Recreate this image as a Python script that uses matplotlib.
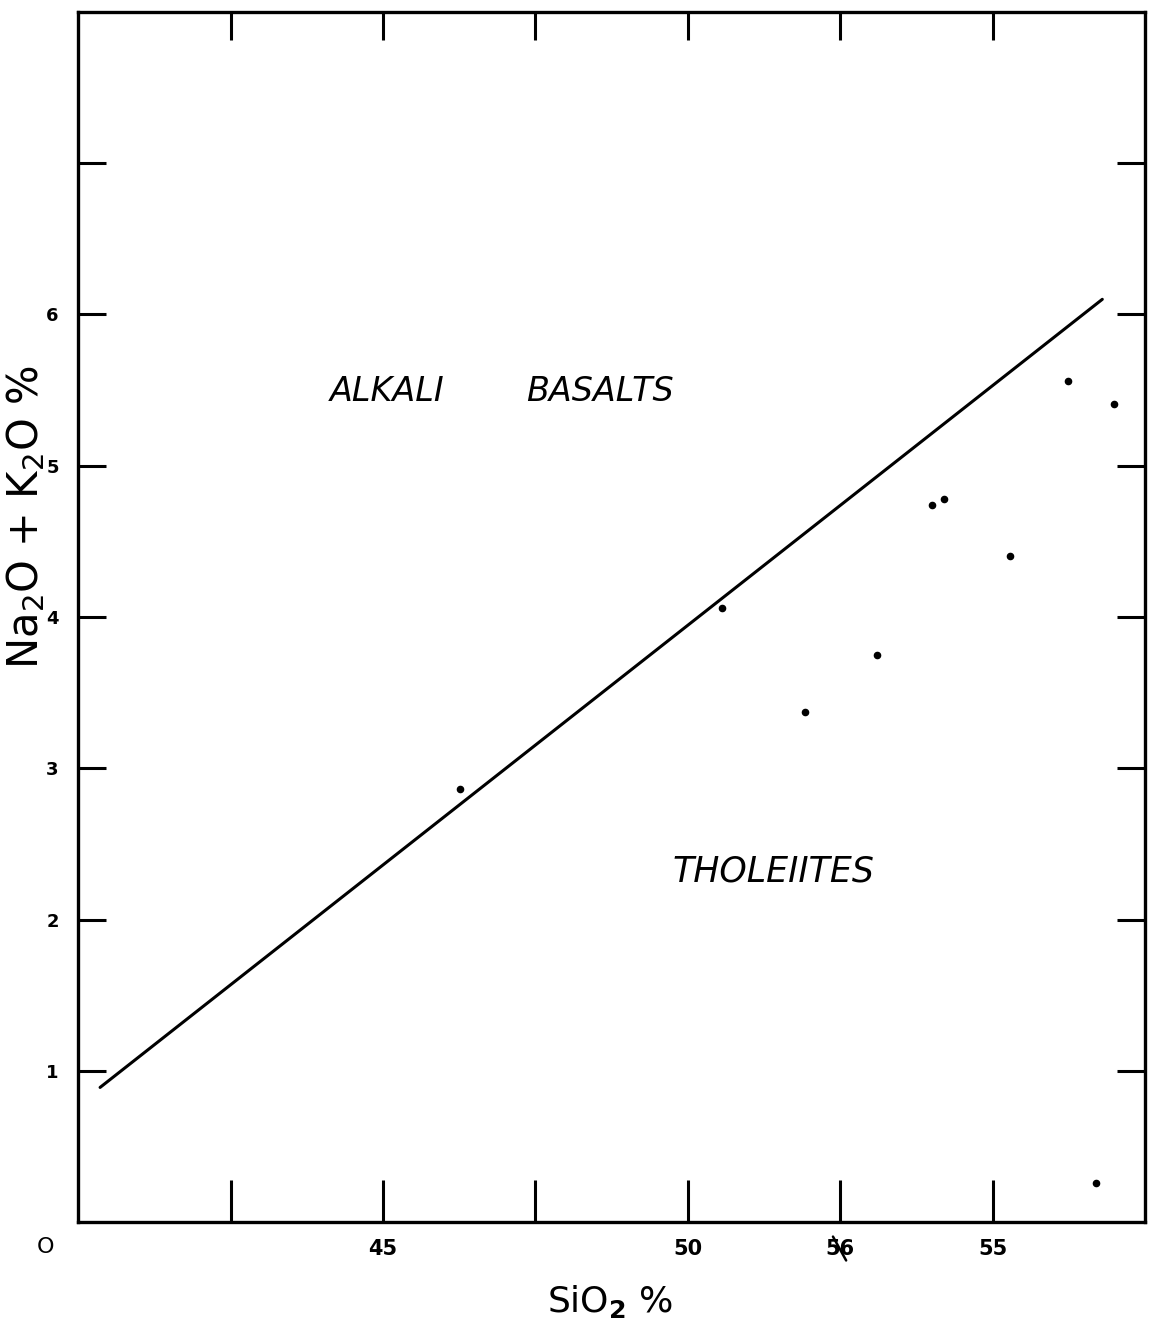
import matplotlib
matplotlib.use("Agg")
import matplotlib.pyplot as plt

# Silica vs total alkali for the analysed basalts
sio2 = [46.26, 50.56, 51.93, 53.10, 54.00, 54.20, 55.28, 56.23, 57.00, 56.70]
alkali = [2.86, 4.06, 3.375, 3.75, 4.74, 4.78, 4.40, 5.56, 5.41, 0.26]

# Dividing line between alkali basalts and tholeiites
divide_sio2 = [40.36, 56.80]
divide_alkali = [0.89, 6.10]

x_ticks = [42.5, 45, 47.5, 50, 52.5, 55]
x_labels = ["", "45", "", "50", "56", "55"]
y_ticks = [1, 2, 3, 4, 5, 6, 7]
y_labels = ["1", "2", "3", "4", "5", "6", ""]

plt.rcParams["font.family"] = ["DejaVu Sans"]

fig = plt.figure(figsize=(11.49, 13.23), dpi=100)
ax = fig.add_axes([0.068, 0.0763, 0.9285, 0.9147])
ax.set_xlim(40, 57.5)
ax.set_ylim(0, 8)

for s in ax.spines.values():
    s.set_linewidth(2.4)

ax.plot(divide_sio2, divide_alkali, color="black", lw=2.2, solid_capstyle="round")
ax.scatter(sio2, alkali, s=20, color="black", zorder=3)

ax.set_xticks(x_ticks)
ax.set_xticklabels(x_labels, fontsize=15, fontweight="bold")
ax.set_yticks(y_ticks)
ax.set_yticklabels(y_labels, fontsize=13, fontweight="bold")
ax.tick_params(axis="x", direction="in", length=30, width=2.2, pad=12)
ax.tick_params(axis="y", direction="in", length=20, width=2.2, pad=14,
               right=True)

# Shorter ticks along the top edge
top = ax.secondary_xaxis("top")
top.set_xticks(x_ticks)
top.set_xticklabels([""] * len(x_ticks))
top.tick_params(direction="in", length=20, width=2.2)

# Origin label
ax.text(-0.031, -0.012, "O", transform=ax.transAxes, fontsize=16,
        ha="center", va="top")

# Strike through the mislettered tick label
ax.annotate("", xy=(52.36, -0.08), xytext=(52.62, -0.27),
            xycoords="data", annotation_clip=False,
            arrowprops=dict(arrowstyle="-", lw=1.8, color="black"))

ax.set_xlabel("SiO$_\\mathbf{2}$ %", fontsize=26)
ax.xaxis.set_label_coords(0.499, -0.05)
ax.set_ylabel("Na$_2$O + K$_2$O %", fontsize=30)
ax.yaxis.set_label_coords(-0.029, 0.582)

ax.text(45.07, 5.49, "ALKALI", fontsize=24, style="italic", ha="center", va="center")
ax.text(48.56, 5.49, "BASALTS", fontsize=24, style="italic", ha="center", va="center")
ax.text(51.41, 2.32, "THOLEIITES", fontsize=25, style="italic", ha="center", va="center")

fig.savefig("out.png", dpi=100, facecolor="white")
